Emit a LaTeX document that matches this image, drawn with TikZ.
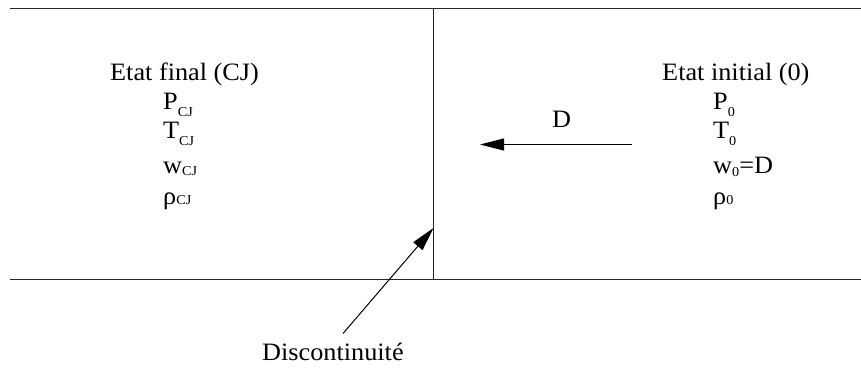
\documentclass[tikz,border=0pt]{standalone}
\usepackage{fontspec}
\setmainfont{Liberation Serif}[FakeStretch=1.05]
\usetikzlibrary{arrows.meta}
\newcommand\mysub[2]{\raisebox{-#1}{\fontsize{13.5}{14}\selectfont #2}}
\tikzset{
  txt/.style={inner sep=0pt, anchor=base west, font=\fontsize{25}{27}\selectfont},
  rule/.style={line width=1.1pt, draw=black!85},
  arr/.style={line width=1pt, -{Triangle[length=24pt,width=12pt]}}
}
\begin{document}
\begin{tikzpicture}[x=1pt,y=-1pt]
\useasboundingbox (0,0) rectangle (861,369);
% frame lines
\coordinate (tl) at (10,8.5);
\coordinate (tr) at (861,8.5);
\coordinate (bl) at (10,279.5);
\coordinate (br) at (861,279.5);
\coordinate (vt) at (433.5,8.5);
\coordinate (vb) at (433.5,279.5);
\draw[rule] (tl) -- (tr);
\draw[rule] (bl) -- (br);
\draw[rule] (vt) -- (vb);
% left state
\node[txt] (ef) at (110,80.5) {Etat final (CJ)};
\node[txt] (pcj) at (163,109) {P\mysub{7.5pt}{CJ}};
\node[txt] (tcj) at (163,138) {T\mysub{7.5pt}{CJ}};
\node[txt] (wcj) at (163,173) {w\mysub{2.5pt}{CJ}};
\node[txt] (rcj) at (163,204) {ρ\mysub{0pt}{CJ}};
% right state
\node[txt] (ei) at (662,80.5) {Etat initial (0)};
\node[txt] (p0) at (713,109) {P\mysub{7.5pt}{0}};
\node[txt] (t0) at (713,138) {T\mysub{7.5pt}{0}};
\node[txt] (w0) at (713,173) {w\mysub{3pt}{0}=D};
\node[txt] (r0) at (713,204) {ρ\mysub{0pt}{0}};
% D arrow
\node[txt] (dlab) at (552,127) {D};
\coordinate (dstart) at (632,144.5);
\coordinate (dend) at (480,144.5);
\draw[arr] (dstart) -- (dend);
% discontinuity
\node[txt] (disc) at (262,360) {Discontinuité};
\coordinate (dtail) at (343,333.5);
\coordinate (dtip) at (433.5,228);
\draw[arr] (dtail) -- (dtip);
\end{tikzpicture}
\end{document}
